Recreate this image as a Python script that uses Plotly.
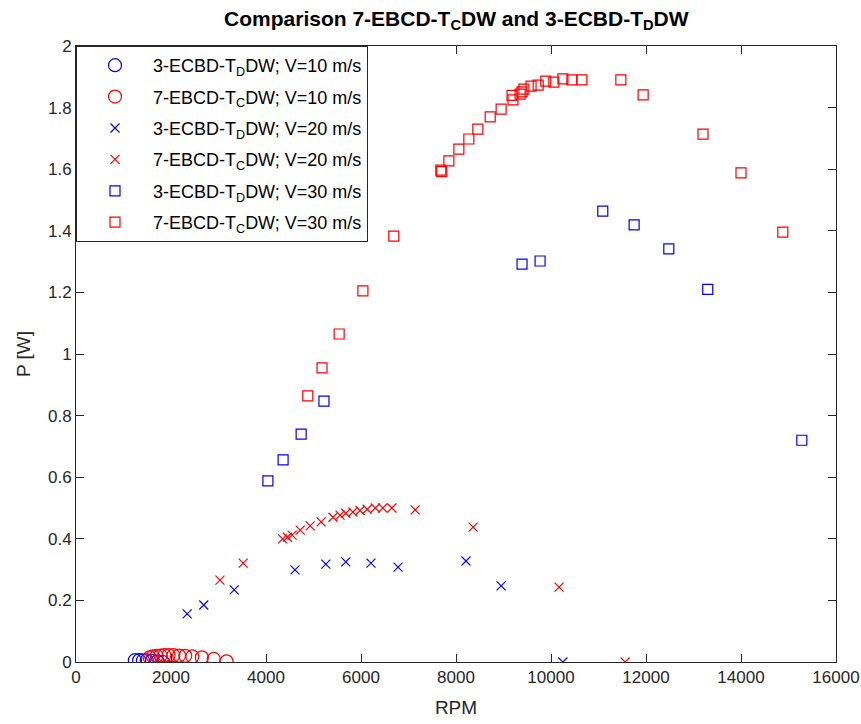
import plotly.graph_objects as go

# 3-ECBD-T_D DW rotor
ecbd_rpm_10 = [1240, 1330, 1410, 1490, 1600, 1710, 1830]
ecbd_p_10 = [0.006, 0.006, 0.005, 0.005, 0.004, 0.002, 0.0]
ecbd_rpm_20 = [2340, 2690, 3330, 4610, 5260, 5680, 6210, 6780, 8210, 8950, 10250]
ecbd_p_20 = [0.156, 0.185, 0.234, 0.299, 0.318, 0.325, 0.321, 0.308, 0.328, 0.247, 0.0]
ecbd_rpm_30 = [4040, 4360, 4740, 5220, 9390, 9770, 11090, 11750, 12480, 13300, 15280]
ecbd_p_30 = [0.588, 0.656, 0.740, 0.847, 1.292, 1.302, 1.464, 1.419, 1.341, 1.210, 0.720]

# 7-EBCD-T_C DW rotor
ebcd_rpm_10 = [1550, 1620, 1700, 1780, 1860, 1950, 2050, 2170, 2300, 2450, 2650, 2900, 3170]
ebcd_p_10 = [0.015, 0.018, 0.020, 0.021, 0.022, 0.022, 0.022, 0.021, 0.020, 0.018, 0.015, 0.010, 0.002]
ebcd_rpm_20 = [3030, 3520, 4350, 4450, 4550, 4720, 4930, 5160, 5410, 5560, 5680, 5830,
               5980, 6130, 6300, 6460, 6650, 7140, 8360, 10170, 11560]
ebcd_p_20 = [0.266, 0.321, 0.400, 0.405, 0.412, 0.428, 0.442, 0.455, 0.470, 0.477, 0.483, 0.487,
             0.492, 0.496, 0.500, 0.500, 0.500, 0.494, 0.438, 0.243, 0.0]
ebcd_rpm_30 = [4880, 5180, 5540, 6040, 6690, 7680, 7700, 7850, 8060, 8270, 8460, 8720, 8950,
               9180, 9200, 9350, 9390, 9430, 9580, 9730, 9890, 10060, 10250, 10440, 10650,
               11470, 11940, 13200, 14000, 14880]
ebcd_p_30 = [0.864, 0.955, 1.065, 1.205, 1.383, 1.597, 1.592, 1.627, 1.665, 1.698, 1.730, 1.770, 1.795,
             1.840, 1.825, 1.844, 1.851, 1.860, 1.870, 1.873, 1.886, 1.883, 1.893, 1.890, 1.890,
             1.890, 1.841, 1.714, 1.588, 1.396]

BLUE = "rgb(0,0,255)"
RED = "rgb(255,0,0)"
FONT = "Arial, Liberation Sans, sans-serif"

series = [
    (ecbd_rpm_10, ecbd_p_10, "3-ECBD-T<sub>D</sub>DW; V=10 m/s", BLUE, "circle-open", 13),
    (ebcd_rpm_10, ebcd_p_10, "7-EBCD-T<sub>C</sub>DW; V=10 m/s", RED, "circle-open", 13),
    (ecbd_rpm_20, ecbd_p_20, "3-ECBD-T<sub>D</sub>DW; V=20 m/s", BLUE, "x-thin-open", 9),
    (ebcd_rpm_20, ebcd_p_20, "7-EBCD-T<sub>C</sub>DW; V=20 m/s", RED, "x-thin-open", 9),
    (ecbd_rpm_30, ecbd_p_30, "3-ECBD-T<sub>D</sub>DW; V=30 m/s", BLUE, "square-open", 10),
    (ebcd_rpm_30, ebcd_p_30, "7-EBCD-T<sub>C</sub>DW; V=30 m/s", RED, "square-open", 10),
]

fig = go.Figure()
for i, (xs, ys, name, color, symbol, size) in enumerate(series):
    fig.add_trace(go.Scatter(
        x=xs, y=ys, mode="markers", name=name, legendgroup=f"g{i}",
        marker=dict(symbol=symbol, size=size, color=color,
                    line=dict(color=color, width=1.2)),
    ))

axis_common = dict(
    showgrid=False, zeroline=False, showline=True, linecolor="#262626", linewidth=1,
    mirror="ticks", ticks="inside", ticklen=8, tickcolor="#262626", automargin=False,
    tickfont=dict(family=FONT, size=17, color="#262626"),
)

fig.update_layout(
    width=861, height=724,
    margin=dict(l=76, r=25, t=46, b=62),
    paper_bgcolor="white", plot_bgcolor="white",
    title=dict(
        text="<b>Comparison 7-EBCD-T<sub>C</sub>DW and 3-ECBD-T<sub>D</sub>DW</b>",
        x=0.53, xanchor="center", y=0.985, yanchor="top",
        font=dict(family=FONT, size=21, color="black"),
    ),
    xaxis=dict(range=[0, 16000], dtick=2000, tickformat="d",
               title=dict(text="RPM", font=dict(family=FONT, size=19, color="#262626"), standoff=14),
               **axis_common),
    yaxis=dict(range=[0, 2], dtick=0.2,
               title=dict(text="P [W]", font=dict(family=FONT, size=19, color="#262626"), standoff=12),
               **axis_common),
    legend=dict(
        x=0, y=1, xanchor="left", yanchor="top",
        bgcolor="white", bordercolor="#262626", borderwidth=1,
        font=dict(family=FONT, size=18, color="black"),
        itemwidth=66, tracegroupgap=5,
    ),
    showlegend=True,
)

fig.write_html("out.html")
